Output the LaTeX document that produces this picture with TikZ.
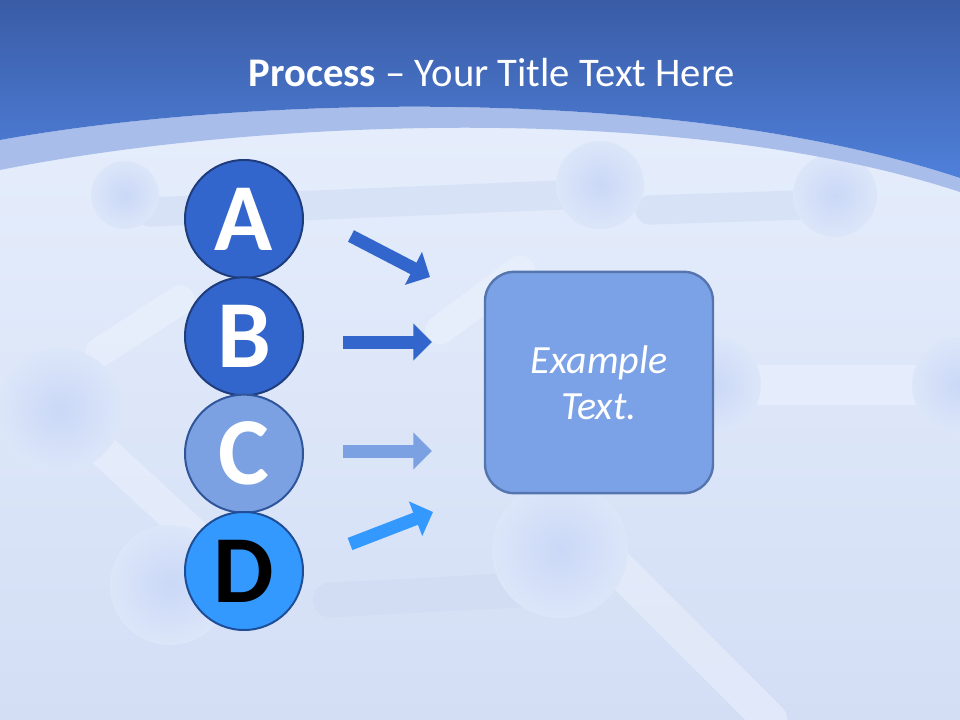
\documentclass[tikz,border=0pt]{standalone}
\usepackage{fontspec}
\setmainfont{Carlito}
\usetikzlibrary{positioning,arrows.meta}
\definecolor{headtop}{HTML}{3A5CA6}
\definecolor{headbot}{HTML}{4F80DA}
\definecolor{band}{HTML}{A9BDEA}
\definecolor{bgtop}{HTML}{E6EEFC}
\definecolor{bgbot}{HTML}{D3DEF5}
\definecolor{bgmid}{HTML}{DCE6F9}
\definecolor{molball}{HTML}{CAD8F7}
\definecolor{molrod}{HTML}{EDF2FD}
\definecolor{molshade}{HTML}{CFDAF3}
\definecolor{darkblue}{HTML}{3366CC}
\definecolor{paleblue}{HTML}{7BA1E3}
\definecolor{brightblue}{HTML}{3399FF}
\definecolor{rimdark}{HTML}{1F3C7C}
\definecolor{rimpale}{HTML}{2F559A}
\definecolor{rimbright}{HTML}{1F4E98}
\definecolor{boxfill}{HTML}{7BA1E6}
\definecolor{boxrim}{HTML}{5575AE}
\tikzset{
    letter/.style={
    circle,draw=rimdark,line width=1.5pt,minimum size=88.5pt,inner sep=0pt,
    text=white,font=\fontsize{72}{74}\selectfont\bfseries
    },
    flow/.style={
    line width=9.75pt,-{Triangle[length=14pt,width=27pt]}
    },
    textbox/.style={
    rectangle,rounded corners=22pt,draw=boxrim,line width=1.8pt,fill=boxfill,
    minimum width=171pt,minimum height=166pt,align=center,text=white,
    font=\fontsize{30}{34.5}\selectfont\itshape
    },
    ball/.style={
    shading=radial,inner color=molball,outer color=bgmid
    },
    rod/.style={
    line width=#1,line cap=round,draw=molrod,opacity=0.5
    },
    darkrod/.style={
    line width=#1,line cap=round,draw=molshade,opacity=0.5
    },
}
\begin{document}
\begin{tikzpicture}[x=0.75pt,y=0.75pt,on grid]
   \useasboundingbox (0,0) rectangle (960,-720);
   %background
   \shade[top color=bgtop,bottom color=bgbot] (0,-100) rectangle (960,-720);
   %molecules
   \draw[darkrod=22pt] (150,-212) -- (560,-195);
   \draw[darkrod=22pt] (650,-210) -- (800,-205);
   \draw[darkrod=26pt] (330,-600) -- (520,-590);
   \draw[rod=22pt] (100,-352) -- (180,-300);
   \draw[rod=24pt] (75,-425) -- (200,-540);
   \draw[rod=30pt] (753,-385) -- (940,-385);
   \draw[rod=26pt] (615,-565) -- (770,-720);
   \draw[rod=22pt] (440,-330) -- (520,-270);
   \shade[ball] (125,-195) circle (34);
   \shade[ball] (600,-185) circle (44);
   \shade[ball] (835,-195) circle (42);
   \shade[ball] (60,-410) circle (62);
   \shade[ball] (170,-585) circle (60);
   \shade[ball] (560,-550) circle (68);
   \shade[ball] (713,-385) circle (48);
   \shade[ball] (960,-385) circle (48);
   %header
   \fill[band] (0,-170) .. controls (250,-120) and (680,-100) .. (960,-192)
     -- (960,-178) .. controls (680,-85) and (250,-95) .. (0,-140) -- cycle;
   \shade[top color=headtop,bottom color=headbot]
     (0,0) -- (960,0) -- (960,-178)
     .. controls (680,-85) and (250,-95) .. (0,-140) -- cycle;
   \node[anchor=base,text=white,font=\fontsize{30.5}{36}\selectfont] (title) at (492,-86.7)
     {\textbf{Process} -- Your Title Text Here};
   %A
   \node[letter,fill=darkblue] (lA) at (244,-219) {A};
   %B
   \node[letter,fill=darkblue] (lB) [below = 88pt of lA] {B};
   %C
   \node[letter,fill=paleblue,draw=rimpale] (lC) [below = 88pt of lB] {C};
   %D
   \node[letter,fill=brightblue,draw=rimbright,text=black] (lD) [below = 88pt of lC] {D};
   %box
   \node[textbox] (ex) at (599,-382.5) {Example\\Text.};
   %arrows
   \coordinate (aStart) at (351,-236);
   \coordinate (aEnd) at (430,-277);
   \coordinate (bStart) at (343,-342);
   \coordinate (bEnd) at (432,-342);
   \coordinate (cStart) at (343,-451);
   \coordinate (cEnd) at (432,-451);
   \coordinate (dStart) at (350,-544);
   \coordinate (dEnd) at (433,-512);

   \path
    (aStart) edge[flow,draw=darkblue] (aEnd)
    (bStart) edge[flow,draw=darkblue] (bEnd)
    (cStart) edge[flow,draw=paleblue] (cEnd)
    (dStart) edge[flow,draw=brightblue] (dEnd)
   ;
\end{tikzpicture}
\end{document}
